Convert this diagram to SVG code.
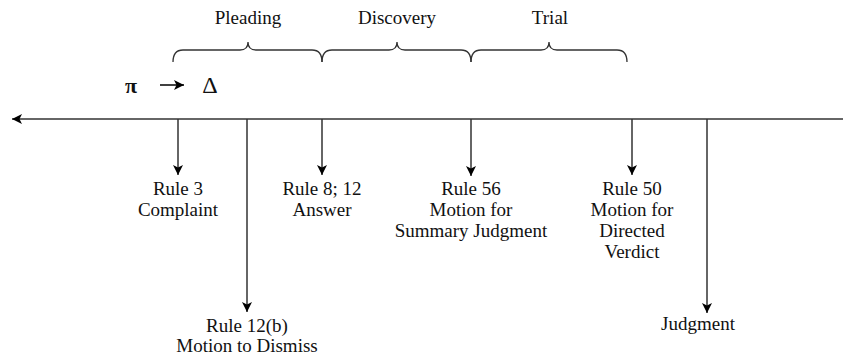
<svg xmlns="http://www.w3.org/2000/svg" width="843" height="356" viewBox="0 0 843 356">
<defs>
<style>
.t{font-family:"Liberation Serif","Times New Roman",serif;font-size:19px;fill:#111;text-anchor:middle}
.ln{stroke:#333;stroke-width:1.5;fill:none}
.br{stroke:#333;stroke-width:1.3;fill:none}
</style>
<marker id="ah" viewBox="0 0 10 10" refX="10" refY="5" markerWidth="10" markerHeight="10" markerUnits="userSpaceOnUse" orient="auto">
<path d="M0,0 L10,5 L0,10 L2.5,5 z" fill="#000"/>
</marker>
</defs>
<rect width="843" height="356" fill="#fff"/>

<g id="phases">
<text class="t" x="248" y="24">Pleading</text>
<text class="t" x="397" y="24">Discovery</text>
<text class="t" x="550" y="24">Trial</text>
<path class="br" d="M173,62 Q173,50 183,50 L240,50 Q248,50 248,42 Q248,50 256,50 L312,50 Q322,50 322,62"/>
<path class="br" d="M322,62 Q322,50 332,50 L389,50 Q397,50 397,42 Q397,50 405,50 L461,50 Q471,50 471,62"/>
<path class="br" d="M471,62 Q471,50 481,50 L541,50 Q549,50 549,42 Q549,50 557,50 L617,50 Q627,50 627,62"/>
</g>

<g id="parties">
<text x="131" y="93" style="font-family:'Liberation Serif',serif;font-size:22px;font-weight:bold;fill:#111;text-anchor:middle">π</text>
<line x1="160" y1="85" x2="184" y2="85" stroke="#111" stroke-width="1.6" marker-end="url(#ah)"/>
<text x="210" y="93" style="font-family:'Liberation Serif',serif;font-size:24px;fill:#111;text-anchor:middle">Δ</text>
</g>

<g id="connectors">
<line class="ln" x1="843" y1="119" x2="12" y2="119" marker-end="url(#ah)"/>
<line class="ln" x1="178" y1="119" x2="178" y2="175" marker-end="url(#ah)"/>
<line class="ln" x1="247" y1="119" x2="247" y2="312" marker-end="url(#ah)"/>
<line class="ln" x1="322" y1="119" x2="322" y2="175" marker-end="url(#ah)"/>
<line class="ln" x1="471" y1="119" x2="471" y2="176" marker-end="url(#ah)"/>
<line class="ln" x1="632" y1="119" x2="632" y2="175" marker-end="url(#ah)"/>
<line class="ln" x1="707" y1="119" x2="707" y2="313" marker-end="url(#ah)"/>
</g>

<g id="complaint">
<text class="t" x="178" y="195">Rule 3</text>
<text class="t" x="178" y="216">Complaint</text>
</g>
<g id="dismiss">
<text class="t" x="247" y="332">Rule 12(b)</text>
<text class="t" x="247" y="352">Motion to Dismiss</text>
</g>
<g id="answer">
<text class="t" x="322" y="195">Rule 8; 12</text>
<text class="t" x="322" y="216">Answer</text>
</g>
<g id="summary-judgment">
<text class="t" x="471" y="195">Rule 56</text>
<text class="t" x="471" y="216">Motion for</text>
<text class="t" x="471" y="237">Summary Judgment</text>
</g>
<g id="directed-verdict">
<text class="t" x="632" y="195">Rule 50</text>
<text class="t" x="632" y="216">Motion for</text>
<text class="t" x="632" y="237">Directed</text>
<text class="t" x="632" y="258">Verdict</text>
</g>
<g id="judgment">
<text class="t" x="698" y="330">Judgment</text>
</g>
</svg>
